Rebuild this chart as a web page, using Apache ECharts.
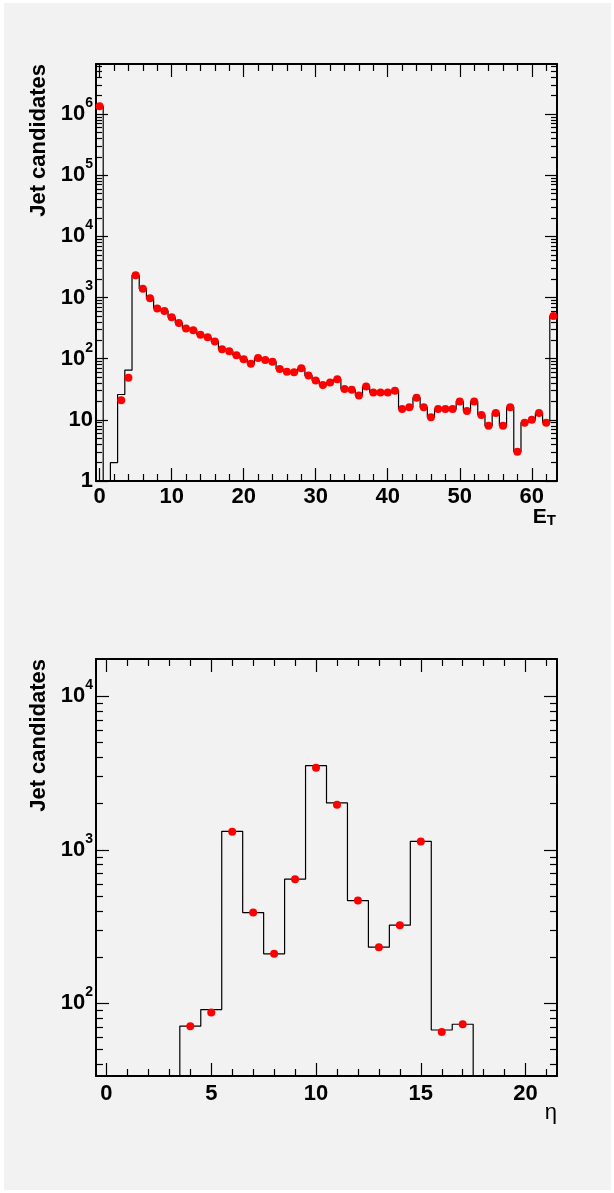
<!DOCTYPE html>
<html>
<head>
<meta charset="utf-8">
<script src="https://cdn.jsdelivr.net/npm/echarts@6/dist/echarts.min.js"></script>
<style>
  html, body { margin: 0; padding: 0; background: #ffffff; }
  #bg { position: absolute; left: 4px; top: 3px; width: 607px; height: 1187px; background: #f2f2f2; }
  #chart { position: absolute; left: 0; top: 0; width: 614px; height: 1193px; }
</style>
</head>
<body>
<div id="bg"></div>
<div id="chart"></div>
<script>
// E_T : 64 bins of width 1, first bin centred on 0
const etBinLow = -0.5;
const etHist = [1350000, 0, 2, 26, 65, 2320, 1390, 970, 665, 605,
  478, 382, 313, 293, 246, 225, 192, 143, 133, 114,
  98, 83, 103, 95, 89, 68, 61, 60, 70, 53,
  44, 37, 41, 46, 32, 31, 25, 35, 28, 28,
  28, 30, 15, 16, 23, 16, 11, 15, 15, 15,
  20, 14, 20, 12, 8, 13, 8, 16, 3, 9,
  10, 13, 9, 500];
const etPoints = [1350000, null, null, 21, 49, 2320, 1390, 970, 665, 605,
  478, 382, 313, 293, 246, 225, 192, 143, 133, 114,
  98, 83, 103, 95, 89, 68, 61, 60, 70, 53,
  44, 37, 41, 46, 32, 31, 25, 35, 28, 28,
  28, 30, 15, 16, 23, 16, 11, 15, 15, 15,
  20, 14, 20, 12, 8, 13, 8, 16, 3, 9,
  10, 13, 9, 500];

// eta : 22 bins of width 1, first bin centred on 0
const etaBinLow = -0.5;
const etaHist = [0, 0, 0, 0, 71, 91, 1320, 390, 210, 644, 3530, 2020, 467, 232, 323, 1135, 67, 73, 0, 0, 0, 0];
const etaPoints = [null, null, null, null, 71, 87, 1309, 390, 210, 644, 3430, 1963, 467, 232, 323, 1132, 65, 73, null, null, null, null];

// axis ranges and ticks
const etRange = [-0.5, 63.5];
const etYRange = [1, 6.6e6];
const etXMajor = [0, 10, 20, 30, 40, 50, 60];
const etXMinor = [2, 4, 6, 8, 12, 14, 16, 18, 22, 24, 26, 28, 32, 34, 36, 38, 42, 44, 46, 48, 52, 54, 56, 58, 62];
const etYMajor = [1, 10, 100, 1000, 10000, 100000, 1000000];

const etaRange = [-0.5, 21.5];
const etaYRange = [33.6, 17500];
const etaXMajor = [0, 5, 10, 15, 20];
const etaXMinor = [1, 2, 3, 4, 6, 7, 8, 9, 11, 12, 13, 14, 16, 17, 18, 19, 21];
const etaYMajor = [100, 1000, 10000];

function logMinor(range) {
  const out = [];
  for (let p = 1; p <= range[1]; p *= 10) {
    for (let k = 2; k <= 9; k++) {
      const v = k * p;
      if (v > range[0] && v < range[1]) out.push(v);
    }
  }
  return out;
}

const FONT = 'Liberation Sans, Arial, Helvetica, sans-serif';

// histogram outline, empty bins drawn at the frame minimum like ROOT
function outline(vals, lo, floor) {
  const pts = [];
  vals.forEach((v, i) => {
    const y = v > 0 ? v : floor;
    pts.push([lo + i, y], [lo + i + 1, y]);
  });
  return pts;
}

function markers(vals, lo) {
  const pts = [];
  vals.forEach((v, i) => {
    if (v != null) pts.push([lo + i + 0.5, v]);
  });
  return pts;
}

function powLabel(v) {
  const n = Math.round(Math.log10(v));
  if (n === 0) return '{b|1}';
  if (n === 1) return '{b|10}';
  return '{b|10}{e|' + n + '}';
}

const richPow = {
  b: { fontSize: 22, fontWeight: 'bold', fontFamily: FONT, color: '#000', lineHeight: 36 },
  e: { fontSize: 14, fontWeight: 'bold', fontFamily: FONT, color: '#000', lineHeight: 14, verticalAlign: 'top' }
};

function xAx(grid, range, pos, ticks, len, line, labels, margin) {
  return {
    type: 'value', gridIndex: grid, min: range[0], max: range[1], position: pos,
    axisLine: { show: line, onZero: false, lineStyle: { color: '#000', width: 2 } },
    axisTick: { show: true, inside: true, length: len, customValues: ticks, lineStyle: { color: '#000', width: 1.2 } },
    axisLabel: labels ? {
      show: true, customValues: labels, margin: margin, color: '#000',
      fontSize: 22, fontWeight: 'bold', fontFamily: FONT
    } : { show: false },
    splitLine: { show: false }
  };
}

function yAx(grid, range, pos, ticks, len, line, labels) {
  return {
    type: 'log', logBase: 10, gridIndex: grid, min: range[0], max: range[1], position: pos,
    axisLine: { show: line, onZero: false, lineStyle: { color: '#000', width: 2 } },
    axisTick: { show: true, inside: true, length: len, customValues: ticks, lineStyle: { color: '#000', width: 1.2 } },
    axisLabel: labels ? {
      show: true, customValues: labels, margin: 3, formatter: powLabel, rich: richPow
    } : { show: false },
    splitLine: { show: false }
  };
}

const chart = echarts.init(document.getElementById('chart'), null, { renderer: 'canvas' });

chart.setOption({
  animation: false,
  backgroundColor: 'transparent',
  grid: [
    { left: 96, top: 64, width: 461, height: 417, show: false },
    { left: 96, top: 659, width: 461, height: 417, show: false }
  ],
  xAxis: [
    xAx(0, etRange, 'bottom', etXMajor, 13, true, etXMajor, 5),
    xAx(0, etRange, 'bottom', etXMinor, 7, false, null),
    xAx(0, etRange, 'top', etXMajor, 13, true, null),
    xAx(0, etRange, 'top', etXMinor, 7, false, null),
    xAx(1, etaRange, 'bottom', etaXMajor, 13, true, etaXMajor, 7),
    xAx(1, etaRange, 'bottom', etaXMinor, 7, false, null),
    xAx(1, etaRange, 'top', etaXMajor, 13, true, null),
    xAx(1, etaRange, 'top', etaXMinor, 7, false, null)
  ],
  yAxis: [
    yAx(0, etYRange, 'left', etYMajor, 12, true, etYMajor),
    yAx(0, etYRange, 'left', logMinor(etYRange), 6, false, null),
    yAx(0, etYRange, 'right', etYMajor, 12, true, null),
    yAx(0, etYRange, 'right', logMinor(etYRange), 6, false, null),
    yAx(1, etaYRange, 'left', etaYMajor, 13, true, etaYMajor),
    yAx(1, etaYRange, 'left', logMinor(etaYRange), 7, false, null),
    yAx(1, etaYRange, 'right', etaYMajor, 13, true, null),
    yAx(1, etaYRange, 'right', logMinor(etaYRange), 7, false, null)
  ],
  series: [
    {
      type: 'line', xAxisIndex: 0, yAxisIndex: 0,
      data: outline(etHist, etBinLow, etYRange[0]),
      symbol: 'none', lineStyle: { color: '#000', width: 1.2 }, z: 3
    },
    {
      type: 'scatter', xAxisIndex: 0, yAxisIndex: 0,
      data: markers(etPoints, etBinLow),
      symbol: 'circle', symbolSize: 8, itemStyle: { color: '#ff0000', opacity: 1 }, z: 4
    },
    {
      type: 'line', xAxisIndex: 4, yAxisIndex: 4,
      data: outline(etaHist, etaBinLow, etaYRange[0]),
      symbol: 'none', lineStyle: { color: '#000', width: 1.2 }, z: 3
    },
    {
      type: 'scatter', xAxisIndex: 4, yAxisIndex: 4,
      data: markers(etaPoints, etaBinLow),
      symbol: 'circle', symbolSize: 8, itemStyle: { color: '#ff0000', opacity: 1 }, z: 4
    }
  ],
  graphic: [
    {
      type: 'text', x: 39, y: 64, rotation: Math.PI / 2,
      style: { text: 'Jet candidates', align: 'right', verticalAlign: 'middle',
        textAlign: 'right', textVerticalAlign: 'middle',
        font: 'bold 22px ' + FONT, fill: '#000' }
    },
    {
      type: 'text', x: 39, y: 659, rotation: Math.PI / 2,
      style: { text: 'Jet candidates', align: 'right', verticalAlign: 'middle',
        textAlign: 'right', textVerticalAlign: 'middle',
        font: 'bold 22px ' + FONT, fill: '#000' }
    },
    {
      type: 'text', x: 556, y: 507,
      style: {
        text: '{a|E}{b|T}', align: 'right', verticalAlign: 'top',
        textAlign: 'right', textVerticalAlign: 'top',
        rich: {
          a: { fontSize: 21, fontWeight: 'bold', fontFamily: FONT, lineHeight: 21, verticalAlign: 'top', fill: '#000', color: '#000' },
          b: { fontSize: 15, fontWeight: 'bold', fontFamily: FONT, lineHeight: 15, padding: [12, 0, 0, 0], verticalAlign: 'bottom', fill: '#000', color: '#000' }
        }
      }
    },
    {
      type: 'text', x: 557, y: 1102,
      style: { text: 'η', align: 'right', verticalAlign: 'top',
        textAlign: 'right', textVerticalAlign: 'top',
        font: '22px ' + FONT, fill: '#000' }
    }
  ]
});
</script>
</body>
</html>
